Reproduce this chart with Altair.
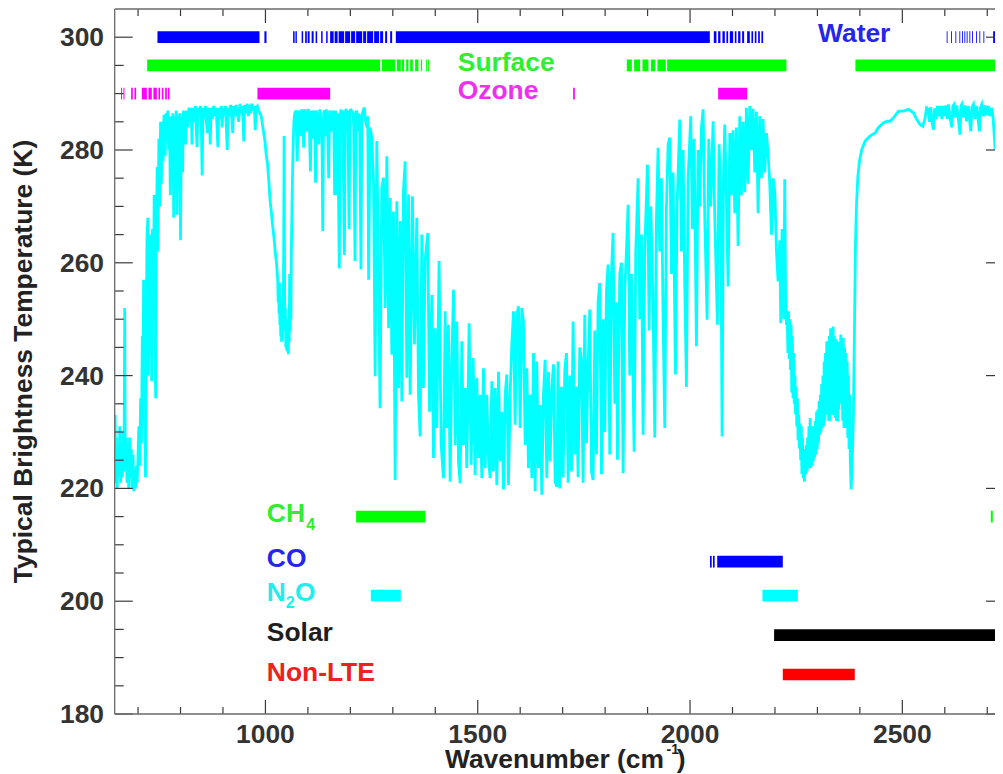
import altair as alt
import pandas as pd

FONT = "Liberation Sans"

# ---------------- spectrum: (wavenumber cm-1, brightness temperature K) ----------------
spec_co2_band = [(645,224),(646,233),(647.5,221),(649,229),(651,220),(653,227),(655,222),(657,231),(659,221),
    (661,228),(663,222),(665,230),(667,224),(668.5,252),(670,223),(672,229),(674,221),(676,228),(678,220),
    (680,229),(682,222),(684,227),(686,220),(688,226),(690,219.5),(692,223),(694,220),(696,224),(698,221),
    (700,226),(702,231),(704,224),(706,236),(708,228),(710,247),(711.5,232),(713,257),(715,234),(717.5,222),
    (719,245),(721,264),(723,268),(724.5,240),(726,262),(728,244),(730,265),(732,239),(734,266),(736,250),
    (738,272),(740,247),(741.5,236),(743,262),(745,277),(747,262),(749,282),(751,270),(753,285),(755,274),
    (757,285),(759,278),(761,286)]

spec_window = [(762,286),(764,279),(766,286.5),(768,282),(770,287),(772,280),(774,286),(776,272),(777,286),
    (779,283),(780,277),(782,286.5),(784,268),(786,286),(788,281),(790,287),(792,268.5),(794,286),(796,278),
    (798,286.5),(800,264),(802,286),(804,279),(805,276),(807,287),(809,283),(812,281),(814,287),(817,284),
    (820,287.5),(823,285),(825,287.5),(827,281),(829,287.5),(832,285),(835,287.8),(837,284),(839,280.5),
    (841,287.5),(844,286),(847,287.8),(849,284),(851,275.5),(853,287.5),(856,285.5),(859,287.8),(861,285),
    (863,283),(865,287.5),(868,286),(870,281),(872,287.5),(875,285.5),(878,287.8),(881,286),(884,287.5),
    (886,284),(888,280.5),(890,287.5),(893,285.5),(896,287.8),(898,284),(900,287.5),(903,286),(906,287.8),
    (908,284),(910,280),(912,287.5),(915,286),(918,288),(921,285.5),(923,283),(925,287.8),(928,286),(931,288),
    (934,286.5),(937,285),(940,288.2),(943,286.5),(946,287.8),(949,281.5),(951,288),(954,286.5),(957,288.2),
    (960,286),(962,288),(965,286.5),(968,288.2),(971,287),(974,287.8),(976,283.5),(978,287.5),(981,287.8),
    (984,287),(987,286.5)]

spec_ozone = [(990,286),(993,284.5),(996,283),(999,281.5),(1002,279),(1005,277.5),(1008,274.5),(1011,271),
    (1014,269),(1017,266.5),(1020,264.5),(1023,262),(1026,260),(1029,257),(1030,253),(1031,256),(1032,251),
    (1033,256.5),(1034,249),(1035,254),(1036,247),(1037,252),(1038,246),(1039,251),(1040,246.5),(1041,250),
    (1042,252),(1043,262),(1044,282.5),(1045,258),(1046,248),(1047,252),(1048,245),(1049,250),(1050,244.5),
    (1051,248),(1052,244.3),(1053,249),(1054,243.8),(1055,250),(1056,246),(1057,258),(1058,248),(1059,256),
    (1060,250),(1061,262),(1063,272),(1065,280),(1067,285)]

spec_window2 = [(1069,286.5),(1072,287),(1075,278),(1077,287),(1080,285.5),(1083,282.5),(1085,287.2),
    (1088,285),(1090,280.4),(1092,287.2),(1095,286),(1098,283.3),(1100,287.3),(1103,285.5),(1106,276.2),
    (1108,287),(1111,282),(1113,287),(1116,285),(1118,274.2),(1120,287),(1123,285.5),(1126,281),(1128,287.2),
    (1131,285),(1133,284),(1135,265.6),(1137,286.5),(1139,287),(1141,282.5),(1143,287.2),(1146,285.5),
    (1149,275),(1151,287),(1154,285),(1157,283.3),(1159,287),(1161,285),(1163,272),(1165,287),(1168,272),
    (1170,286.5),(1174,259),(1176,286),(1178,287.2),(1180,283.3),(1182,287),(1186,261.4),(1188,286.5),
    (1190,287.3),(1192,284),(1194,287),(1197,266),(1199,286.5),(1201,287.3),(1204,286.3),(1206,287),
    (1208,284),(1211,260.3),(1213,286.5),(1215,287),(1218,283.3),(1220,286.5),(1222,285),(1225,258.8),
    (1227,286),(1230,287),(1233,287.5),(1235,285.5),(1239,284),(1241,286)]

spec_water_band = [(1243,257),(1246.5,284),(1250.6,282.2),(1254.5,274.5),(1258.4,239.9),(1262.3,281.6),
    (1266.3,257.3),(1270,234.2),(1274,273.3),(1278,275.1),(1282,252),(1286,278.9),(1290,248.4),(1294,271.5),
    (1297.7,243.7),(1301.6,269.1),(1305.5,221.5),(1309.4,270.9),(1313.4,237.8),(1317.3,267.4),(1321.2,235.4),
    (1325.1,272.7),(1329,278),(1333,239.6),(1337,272.1),(1340.8,236.6),(1346.3,271.8),(1351,245.5),
    (1356.5,268),(1360.5,236.6),(1364.4,229.2),(1368.3,265),(1372,237.8),(1376,260.3),(1382.4,265.3),
    (1386.4,233.6),(1392,254.3),(1395.8,225.4),(1399.7,248.4),(1403.6,230.7),(1409,260.3),(1413.8,227.7),
    (1419.3,221.8),(1423.3,251.4),(1427,230.7),(1431,249),(1435,221.2),(1439,242.5),(1442.9,255.2),
    (1446.8,227.7),(1450.7,249.6),(1454.6,224.8),(1458.6,220.9),(1462.5,246.1),(1466.4,227.7),(1470.4,237.8),
    (1474.3,223.6),(1479.8,249.3),(1484.5,224.2),(1489.2,243.1),(1493.9,222.4),(1497.8,239.6),(1501.8,225.4),
    (1505.7,236.6),(1509.6,221.8),(1513.5,241.3),(1517.5,223.6),(1521.4,236.6),(1525.3,225.4),(1529.2,221.8),
    (1533.2,239),(1537,223),(1541,237.8),(1545,220.6),(1548.9,240.7),(1552.8,224.8),(1556.7,233.6),
    (1560.6,219.8),(1564.6,236.6),(1568.5,240.2),(1572.4,220.6),(1576.3,236.6),(1580.3,245.5),(1584.2,251.4),
    (1588,231.3),(1592,250.8),(1596,252.3),(1599.9,230.7),(1603.8,252),(1607.7,249.6),(1611.7,227.7),
    (1615.6,241.3),(1619.5,223.6),(1623.4,236.6),(1627.4,221.8),(1631.3,244),(1635.2,219.5),(1639,242.5),
    (1643,223.6),(1647,234.8),(1650.9,218.9),(1654.8,236.6),(1658.8,242.8),(1662.7,221.8),(1666.6,240.7),
    (1670.5,224.8),(1674.5,237.8),(1678.4,242),(1682.3,221.2),(1686.2,220.3)]

spec_water_band2 = [(1689.3,242.5),(1693.2,220),(1697.2,238),(1701,222),(1705,241),(1709,244),(1712.9,221),
    (1716.8,240),(1720.7,223),(1724.6,249.6),(1728.6,226),(1732.5,238),(1736.4,222),(1740.3,245),(1744.3,243),
    (1748.2,221),(1752.1,250.8),(1756,228),(1760,242),(1763.9,251.7),(1767.8,223),(1771.7,221.5),(1775.7,248),
    (1779.6,226),(1783.5,253),(1787.4,256.4),(1791.4,222.5),(1795.3,250),(1799.2,230),(1803.1,255),
    (1807,259.7),(1811,226),(1814.9,258),(1818.8,265.3),(1822.8,235),(1826.7,253),(1829,225.1),(1834.5,258),
    (1838.5,260),(1842.4,222.7),(1846.3,255),(1850.2,262),(1854.2,270.3),(1858,240),(1862,258),(1868.3,226.5),
    (1872.2,262),(1877.7,275),(1881.6,250),(1885.6,265),(1889.5,229.5),(1893.4,262),(1899.7,277.4),
    (1903.6,248),(1907.5,270),(1912.2,256),(1917,229),(1920.9,268),(1924.8,280.4),(1928.7,262),(1932.6,275),
    (1936.6,250),(1940.5,230.7),(1944.4,270),(1948.4,281),(1952.3,282.2),(1956.2,258),(1960.1,276),
    (1965.6,240.2),(1969.5,270),(1975.8,285.4),(1979.7,262),(1983.7,280),(1987.6,256),(1991.5,238),
    (1995.5,275),(2001.7,286),(2005.7,266),(2009.6,282),(2015.1,245.2),(2019,280),(2023,270),(2026.9,284),
    (2030.8,287.2),(2034.7,268),(2040.2,249.9),(2044.1,282),(2048.8,270),(2054.3,285.1),(2058.3,268),
    (2064.5,249),(2068.5,281),(2072.4,271),(2075.5,229.2),(2078.7,275),(2081.8,284.5),(2085.7,271),
    (2089.7,255.8),(2093.6,283),(2097.5,272),(2101.4,283.5),(2105.4,268.8),(2109.3,284),(2113.2,263),
    (2117.1,286),(2121,272),(2125,285),(2128.9,272.5),(2132.8,287.5),(2136.8,274),(2140.7,287.8),(2144.6,280),
    (2148.5,287.3),(2152.5,276),(2156.4,286.8),(2160.3,268.8),(2164.2,286),(2168.2,275),(2172,285.5),
    (2176,276),(2180,283),(2183.9,279.2),(2187.8,274),(2191.7,265),(2195.6,275),(2199.6,272.7),(2203.5,262),
    (2207.4,256.7),(2211.3,264),(2213.7,249.3),(2216.8,266)]

spec_co2_4um = [(2219,262),(2221,250),(2223,274.8),(2225,255),(2227,249),(2229,250),(2230.5,244),
    (2232,251.4),(2233.5,243),(2235,250),(2236.5,241),(2238,249),(2239.5,237),(2241,247),(2242.5,236),
    (2244,244),(2245.5,235),(2247,240),(2248.5,233.1),(2250,238),(2251.5,231),(2253,236),(2254.5,228.5),
    (2256,233.1),(2257.5,227.1),(2259,231.5),(2260.5,225),(2262,231),(2263.5,222.5),(2265,229),(2266.5,221.8),
    (2268,226),(2269.5,221.2),(2271,227),(2272.5,222.5),(2274,227.7),(2275.5,223),(2277,229),(2278.5,223.5),
    (2280,231),(2281.5,224),(2283,232.5),(2284.5,223.6),(2286,231),(2287.5,224),(2289,230.7),(2290.5,224.8),
    (2292,231),(2293.5,225.5),(2295,232),(2296.5,226),(2298,233.6),(2299.5,227),(2301,234),(2302.5,228),
    (2304,235.5),(2305.5,229.5),(2307,236.6),(2308.5,230),(2310,238.5),(2311.5,230.7),(2313,240),(2314.5,231),
    (2316,242.5),(2317.5,232),(2319,244),(2320.5,233.1),(2322,246.1),(2323.5,233.5),(2325,245),(2326.5,232),
    (2328,247),(2329.5,231.9),(2331,248.4),(2332.5,233),(2334,247.5),(2335.5,233),(2337,248.7),(2338.5,233.1),
    (2340,247),(2341.5,232.5),(2343,246.5),(2344.5,232),(2346,246.1),(2347.5,231.9),(2349,245),(2350.5,234),
    (2352,246),(2353.5,236.6),(2355,247.3),(2356.5,235),(2358,245),(2359.5,232),(2361,246.7),(2362.5,230.7),
    (2364,245),(2365.5,231),(2367,244),(2368.5,230.7),(2370,242.5),(2371.5,229),(2373,240),(2374.5,227),
    (2376,236.6),(2377.5,224.8),(2379.4,219.8),(2381,223),(2382.5,226),(2384.9,233.6)]

spec_shortwave = [(2387.3,248.4),(2389.6,263.2),
    (2392,270.3),(2395.1,275.1),(2399,278),(2404.5,280.1),(2412.4,281.6),(2424.2,282.5),(2436,283),
    (2443.8,284),(2455.6,284.8),(2463.4,285.1),(2471.3,285.1),(2479,285.7),(2490.9,286.9),(2502.7,286.9),
    (2514.4,287.2),(2526.2,286.6),(2534,285.4),(2542,284.5),(2548.2,284.2),(2553.7,285.7),(2557,287.5),
    (2561.5,287.2),(2564,285),(2567,287.6),(2570,284.8),(2573.3,283.6),(2576,287.4),(2579.6,285.5),
    (2583,287.8),(2587.4,286),(2590,287.8),(2593,285.5),(2596.9,287.8),(2600,286),(2603.1,287.9),(2606,285.5),
    (2608.6,288.1),(2612,286),(2616.5,284),(2619,287.8),(2622,288.1),(2625,285.8),(2628.3,287.9),(2632,285.5),
    (2636,282.7),(2638,287.8),(2640,288.1),(2644,285.8),(2647.9,287.9),(2651,285.1),(2655.7,287.8),
    (2658,285.5),(2661.2,283.3),(2664,287.6),(2667.5,288.1),(2671,285.5),(2675.4,287.8),(2678,285.7),
    (2681.6,283.3),(2684,287.5),(2687.1,288.1),(2691,286),(2695,287.9),(2699,286.2),(2702.8,287.8),(2706,286),
    (2710.7,287.5),(2714,285.5),(2718.5,280.1),(2722.5,286.3),(2726.4,288.1),(2730,286.5),(2734.2,287.8),
    (2740,286.5),(2745,287.5),(2752,286.8),(2760,287.5)]

# ---------------- channel sets: (start, end) wavenumber ----------------
water_channels = [(745.7,986),(997.6,1002.5),(1065.2,1068.8),(1070.7,1074),(1085.3,1088.8),(1093.5,1097.5),
    (1099.4,1104.1),(1108.8,1113.5),(1118.2,1121.8),(1131.2,1134.7),(1143,1146.5),(1152.4,1160.6),
    (1163,1170),(1172.4,1185.4),(1187.7,1199.5),(1201.8,1211.3),(1213.6,1227.8),(1230.1,1237.2),
    (1239.5,1253.7),(1256,1267.8),(1270.1,1277.2),(1281.9,1286.6),(1293.7,1298.4),(1307.1,2046.6),
    (2056,2062.2),(2066.2,2071.6),(2076.3,2082),(2085.7,2089.7),(2093.7,2101.5),(2105.5,2109.3),
    (2113.3,2118.7),(2122.7,2127.4),(2134.5,2140.8),(2144.6,2148.6),(2152.6,2156.4),(2160.4,2164.4),
    (2168.1,2172.1),(2604.5,2606.5),(2614.6,2616.6),(2625,2627),(2634.4,2636.4),(2640.5,2642.5),
    (2646.2,2648.2),(2651.6,2653.6),(2658,2660),(2664.1,2666.1),(2673.5,2675.5),(2681.5,2683.5),
    (2691,2693),(2713.9,2724)]
surface_channels = [(721.4,1270.1),(1274,1305.5),(1309.5,1318.9),(1321.2,1326.7),(1331.4,1336.8),
    (1340.8,1347.2),(1352.6,1360.3),(1366,1369),(1378.5,1380.8),(1383.2,1385.5),(1851.1,1862.9),
    (1868.3,1882.5),(1887.9,1902),(1907.7,1917.8),(1923.2,1943),(1946,2227.1),(2389.5,2760)]
ozone_channels = [(660,662.4),(665.6,668),(683.7,687.7),(691.5,695.5),(708.9,720.7),(724.4,732.4),
    (736.2,744.2),(748,752),(756,759.8),(763.8,767.8),(770.2,774),(981.2,1152.4),(1724.7,1728.7),
    (2066.2,2134.5)]
ch4_channels = [(1213.6,1376.8),(2708.4,2713.1),(2722.5,2727.2)]
co_channels = [(2047,2051),(2054,2058),(2064,2218.5)]
n2o_channels = [(1248.2,1318.9),(2170.5,2254)]
solar_channels = [(2198,2760)]
nonlte_channels = [(2218.5,2388)]

band_levels = [300, 295, 290, 215, 207, 201, 194, 187]
band_colors = ["#0000ff", "#00ff00", "#ff00ff", "#00ff00", "#0000ff", "#00ffff", "#000000", "#ff0000"]
band_sets = [water_channels, surface_channels, ozone_channels, ch4_channels, co_channels,
             n2o_channels, solar_channels, nonlte_channels]

# ---------------- labels ----------------
label_text = ["Water", "Surface", "Ozone", "CH", "4", "CO", "N", "2", "O", "Solar", "Non-LTE"]
label_wn = [2301.5, 1453, 1453, 1003.3, 1095.9, 1003.3, 1003.3, 1048.0, 1069.9, 1003.3, 1003.3]
label_bt = [299.1, 294.0, 289.1, 214.1, 212.65, 206.0, 200.1, 198.76, 200.1, 193.0, 185.9]
label_color = ["#2525ee", "#30ee30", "#ee30ee", "#30ee30", "#30ee30", "#2525ee", "#20eeee", "#20eeee",
               "#20eeee", "#1e1e1e", "#ee2020"]
label_size = [26.4, 26.4, 26.4, 26.4, 16, 26.4, 26.4, 16, 26.4, 26.4, 26.4]

# ---------------- axis ticks ----------------
x_major = [1000, 1500, 2000, 2500]
x_major_labels = ["1000", "1500", "2000", "2500"]
x_minor = [700, 800, 900, 1100, 1200, 1300, 1400, 1600, 1700, 1800, 1900, 2100, 2200, 2300, 2400,
           2600, 2700]
y_major = [180, 200, 220, 240, 260, 280, 300]
y_major_labels = ["180", "200", "220", "240", "260", "280", "300"]
y_minor = [185, 190, 195, 205, 210, 215, 225, 230, 235, 245, 250, 255, 265, 270, 275, 285, 290, 295]

# ---------------- build ----------------
PX_PER_WN = 0.4246
W, H = 880.3, 705
XDOM = [645, 645 + W / PX_PER_WN]
YDOM = [180, 305]

spectrum = (spec_co2_band + spec_window + spec_ozone + spec_window2 + spec_water_band
            + spec_water_band2 + spec_co2_4um + spec_shortwave)
spec_df = pd.DataFrame(spectrum, columns=["wn", "bt"])
spec_df["idx"] = range(len(spec_df))

rows = []
for lvl, col, segs in zip(band_levels, band_colors, band_sets):
    for s, e in segs:
        rows.append({"wn": s, "wn2": e, "bt": lvl, "color": col})
bars_df = pd.DataFrame(rows)

labels_df = pd.DataFrame({"text": label_text, "wn": label_wn, "bt": label_bt,
                          "color": label_color, "size": label_size})

xs = alt.Scale(domain=XDOM, nice=False, zero=False)
ys = alt.Scale(domain=YDOM, nice=False, zero=False)
XN = dict(scale=xs, axis=None)
YN = dict(scale=ys, axis=None)

line = alt.Chart(spec_df).mark_line(color="#00ffff", strokeWidth=2.8, clip=True).encode(
    x=alt.X("wn:Q", **XN),
    y=alt.Y("bt:Q", **YN),
    order="idx:Q",
)

bars = alt.Chart(bars_df).mark_rule(strokeWidth=11.7, strokeCap="butt", clip=True).encode(
    x=alt.X("wn:Q", **XN),
    x2="wn2:Q",
    y=alt.Y("bt:Q", **YN),
    color=alt.Color("color:N", scale=None),
)

labels = alt.Chart(labels_df).mark_text(align="left", baseline="alphabetic", font=FONT,
                                        fontWeight="bold").encode(
    x=alt.X("wn:Q", **XN),
    y=alt.Y("bt:Q", **YN),
    text="text:N",
    color=alt.Color("color:N", scale=None),
    size=alt.Size("size:Q", scale=None),
)

TICK = "#3a3a3a"
FRAME = "#6a6a6a"


def xticks(vals, length):
    d = pd.DataFrame({"wn": vals})
    bottom = alt.Chart(d).mark_rule(color=TICK, strokeWidth=1.2).encode(
        x=alt.X("wn:Q", **XN), y=alt.value(H), y2=alt.value(H - length))
    top = alt.Chart(d).mark_rule(color=TICK, strokeWidth=1.2).encode(
        x=alt.X("wn:Q", **XN), y=alt.value(0), y2=alt.value(length))
    return [bottom, top]


def yticks_left(vals, length):
    d = pd.DataFrame({"bt": vals})
    return alt.Chart(d).mark_rule(color=TICK, strokeWidth=1.2).encode(
        y=alt.Y("bt:Q", **YN), x=alt.value(0), x2=alt.value(length))


# right axis lies just beyond the cropped edge: only the inner ends of its major ticks show
right_ticks = alt.Chart(pd.DataFrame({"bt": y_major})).mark_rule(color=TICK, strokeWidth=1.2).encode(
    y=alt.Y("bt:Q", **YN), x=alt.value(W - 9), x2=alt.value(W))

one = pd.DataFrame({"k": [0]})
frame_left = alt.Chart(one).mark_rule(color=FRAME, strokeWidth=1.3).encode(
    x=alt.value(0), y=alt.value(0), y2=alt.value(H))
frame_top = alt.Chart(one).mark_rule(color=FRAME, strokeWidth=1.3).encode(
    x=alt.value(0), x2=alt.value(W), y=alt.value(0))
frame_bottom = alt.Chart(one).mark_rule(color=FRAME, strokeWidth=1.3).encode(
    x=alt.value(0), x2=alt.value(W), y=alt.value(H))

xlab = alt.Chart(pd.DataFrame({"wn": x_major, "lab": x_major_labels})).mark_text(
    align="center", baseline="alphabetic", font=FONT, fontWeight="bold", fontSize=26.4,
    color="#333333").encode(x=alt.X("wn:Q", **XN), y=alt.value(734), text="lab:N")
ylab = alt.Chart(pd.DataFrame({"bt": y_major, "lab": y_major_labels})).mark_text(
    align="right", baseline="alphabetic", dy=9, font=FONT, fontWeight="bold", fontSize=26.4,
    color="#333333").encode(y=alt.Y("bt:Q", **YN), x=alt.value(-10.7), text="lab:N")

ytitle = alt.Chart(one).mark_text(text="Typical Brightness Temperature (K)", angle=270, align="center",
                                  baseline="alphabetic", font=FONT, fontWeight="bold", fontSize=26.4,
                                  color="#222222").encode(x=alt.value(-83), y=alt.value(352.5))
xtitle_main = alt.Chart(one).mark_text(text="Wavenumber (cm", align="left", baseline="alphabetic",
                                       font=FONT, fontWeight="bold", fontSize=26.4,
                                       color="#222222").encode(x=alt.value(330.3), y=alt.value(759))
xtitle_sup = alt.Chart(one).mark_text(text="-1", align="left", baseline="alphabetic", font=FONT,
                                      fontWeight="bold", fontSize=14,
                                      color="#222222").encode(x=alt.value(551.8), y=alt.value(745))
xtitle_end = alt.Chart(one).mark_text(text=")", align="left", baseline="alphabetic", font=FONT,
                                      fontWeight="bold", fontSize=26.4,
                                      color="#222222").encode(x=alt.value(562), y=alt.value(759))

layers = ([line, bars, labels] + xticks(x_major, 14) + xticks(x_minor, 7)
          + [yticks_left(y_major, 18), yticks_left(y_minor, 9), right_ticks,
             frame_left, frame_top, frame_bottom, xlab, ylab,
             ytitle, xtitle_main, xtitle_sup, xtitle_end])

chart = alt.layer(*layers).properties(
    width=W, height=H,
    padding={"left": 106.7, "top": 1, "right": 0, "bottom": 60},
    autosize=alt.AutoSizeParams(type="none"),
    background="white",
).configure_view(strokeWidth=0, stroke=None)

chart.save("out.html", embed_options={"renderer": "svg", "actions": False})
